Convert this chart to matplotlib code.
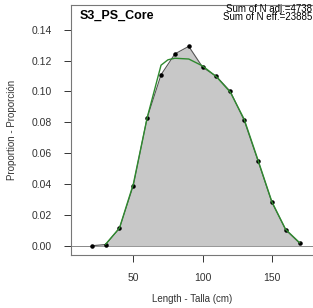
import matplotlib
matplotlib.use("Agg")
import matplotlib.pyplot as plt

# observed proportions at length
length = [20, 30, 40, 50, 60, 70, 80, 90, 100, 110, 120, 130, 140, 150, 160, 170]
obs = [0.0, 0.0008, 0.0113, 0.039, 0.083, 0.1108, 0.1243, 0.1292, 0.1157, 0.1097,
       0.100, 0.0813, 0.055, 0.0282, 0.0103, 0.0017]

# fitted (expected) proportions
fit_length = [30, 40, 50, 60, 70, 75, 80, 90, 100, 110, 120, 130, 140, 150, 160, 170]
fit = [0.001, 0.0115, 0.040, 0.083, 0.117, 0.1205, 0.1215, 0.121, 0.1165, 0.1095,
       0.0995, 0.082, 0.0555, 0.0285, 0.0105, 0.002]

title = "S3_PS_Core"
n_adj = 4738
n_eff = 23885

plt.rcParams["font.family"] = ["Liberation Sans", "DejaVu Sans"]

fig = plt.figure(figsize=(3.13, 3.08), dpi=100)
# plot region runs past the right edge of the image, as in the reference
ax = fig.add_axes([71 / 313, 53 / 308, 242 / 313, 250 / 308])

ax.fill_between(length, obs, 0, color="#c8c8c8", lw=0)
ax.plot(length, obs, color="#555555", lw=0.8)
ax.scatter(length, obs, s=5, color="black", zorder=3)
ax.plot(fit_length, fit, color="#2f8a2f", lw=1.0, zorder=4)
ax.axhline(0, color="#888888", lw=0.7, zorder=0)

ax.set_xlim(5, 179.7)
ax.set_ylim(-0.006, 0.156)
ax.set_xticks([50, 100, 150])
ax.set_yticks([0.00, 0.02, 0.04, 0.06, 0.08, 0.10, 0.12, 0.14])
ax.set_yticklabels([f"{v:.2f}" for v in ax.get_yticks()])
ax.tick_params(direction="out", length=5, width=0.7, labelsize=7.5, colors="#333333")
ax.tick_params(axis="y", pad=9)
ax.tick_params(axis="x", pad=8)
ax.spines["right"].set_visible(False)
for s in ax.spines.values():
    s.set_color("#777777")
    s.set_linewidth(0.8)

ax.set_xlabel("Length - Talla (cm)", fontsize=7, labelpad=8, color="#333333")
ax.set_ylabel("Proportion - Proporción", fontsize=7, labelpad=10, color="#333333")

ax.text(11, 0.153, title, fontsize=9, fontweight="bold", va="top", ha="left")
ax.text(0.995, 1.006, f"Sum of N adj.={n_adj}\nSum of N eff.={n_eff}", transform=ax.transAxes,
        fontsize=7, va="top", ha="right", linespacing=0.85)

fig.savefig("out.png", dpi=100)
